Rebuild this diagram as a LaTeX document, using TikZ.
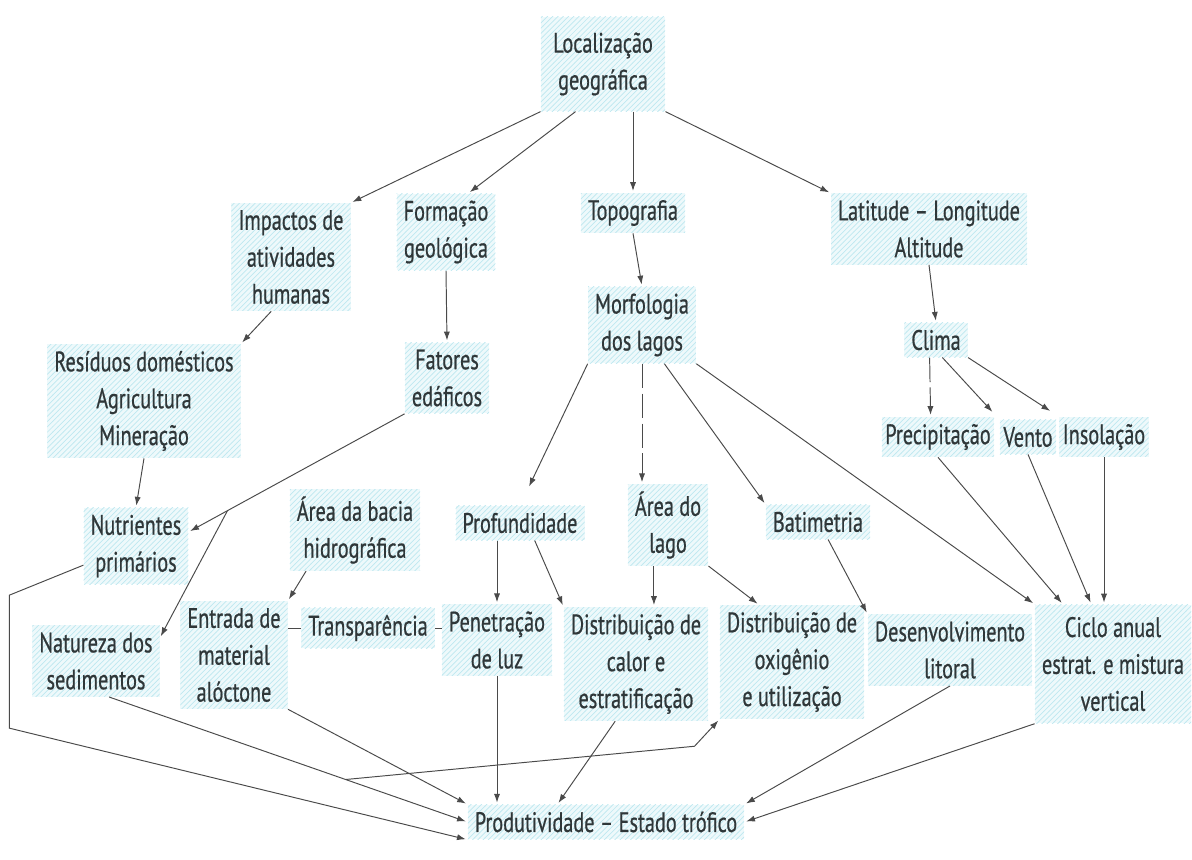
\documentclass[tikz,border=0pt]{standalone}
\usepackage{fontspec}
\setmainfont{PT Sans}[FakeStretch=0.72, FakeBold=0.6]
\usetikzlibrary{calc, arrows.meta, patterns}

\definecolor{inkgray}{HTML}{2F3739}
\definecolor{linegray}{HTML}{4A4A4A}
\definecolor{hatchbg}{HTML}{EEF9FB}
\definecolor{hatchln}{HTML}{BEE8F0}

\begin{document}
\begin{tikzpicture}[x=0.02cm, y=-0.02cm,
  topic/.style={align=center, text=inkgray, font=\fontsize{16}{21}\selectfont,
    inner xsep=4pt, inner ysep=4pt, preaction={fill=hatchbg},
    pattern=north east lines, pattern color=hatchln},
  arr/.style={draw=linegray, line width=0.55pt, -{Latex[length=5pt,width=3.5pt]}, shorten >=1pt},
  plainline/.style={draw=linegray, line width=0.55pt},
  broken/.style={arr, dash pattern=on 14pt off 3pt}]
  \useasboundingbox (0,0) rectangle (1192,859);

  % nodes, row by row
  \node[topic, inner xsep=7pt, inner ysep=9pt] (loc) at (603,64) {Localização\\geográfica};
  \node[topic] (imp)   at (291,257) {Impactos de\\atividades\\humanas};
  \node[topic] (form)  at (446,232) {Formação\\geológica};
  \node[topic] (topo)  at (633,213) {Topografia};
  \node[topic] (lat)   at (929,229) {Latitude – Longitude\\Altitude};
  \node[topic] (res)   at (144,401) {Resíduos domésticos\\Agricultura\\Mineração};
  \node[topic] (fat)   at (447,378) {Fatores\\edáficos};
  \node[topic] (morf)  at (642,325) {Morfologia\\dos lagos};
  \node[topic] (clima) at (936,340) {Clima};
  \node[topic, inner xsep=2pt] (prec)  at (938,437) {Precipitação};
  \node[topic, inner xsep=2pt] (vento) at (1028,437) {Vento};
  \node[topic, inner xsep=2pt] (insol) at (1104,437) {Insolação};
  \node[topic] (nut)   at (136,546) {Nutrientes\\primários};
  \node[topic] (bacia) at (355,530) {Área da bacia\\hidrográfica};
  \node[topic] (prof)  at (520,523) {Profundidade};
  \node[topic] (area)  at (668,525) {Área do\\lago};
  \node[topic] (bat)   at (818,522) {Batimetria};
  \node[topic] (nat)   at (96,661) {Natureza dos\\sedimentos};
  \node[topic] (ent)   at (234,655) {Entrada de\\material\\alóctone};
  \node[topic] (transp) at (368,628) {Transparência};
  \node[topic] (pen)   at (497,640) {Penetração\\de luz};
  \node[topic] (calor) at (636,664) {Distribuição de\\calor e\\estratificação};
  \node[topic] (oxi)   at (792,662) {Distribuição de\\oxigênio\\e utilização};
  \node[topic] (desen) at (950,650) {Desenvolvimento\\litoral};
  \node[topic, inner ysep=7pt] (ciclo) at (1113,664) {Ciclo anual\\estrat. e mistura\\vertical};
  \node[topic] (prod)  at (606,822) {Produtividade – Estado trófico};

  % from the top
  \draw[arr] (loc.south west) -- (imp.north east);
  \draw[arr] (loc.240) -- (form.60);
  \draw[arr] (loc.south -| topo.north) -- (topo.north);
  \draw[arr] (loc.south east) -- (lat.north west);
  \draw[arr] (imp.250) -- (res.north east);
  \draw[arr] (form.south) -- (fat.north);
  \draw[arr] (topo.south) -- (morf.north);
  \draw[arr] (lat.south) -- (clima.north);

  % left side
  \draw[arr] (res.south) -- (nut.north);
  \draw[arr] (fat.south west) -- coordinate[pos=0.82] (fk) (nut.15);
  \draw[arr] (fk) -- (nat.20);
  \draw[arr] (nut.200) -- ++(-74,30) -- ++(0,133) -- (prod.south west);
  \draw[arr] (nat.-70) -- coordinate[pos=0.66] (nb) (prod.west);
  \draw[arr] (nb) -- ($(oxi.south west)+(-25,27)$) -- (oxi.south west);
  \draw[arr] (bacia.220) -- (ent.north east);
  \draw[arr] (ent.south east) -- (prod.north west);
  \draw[plainline] (ent.east |- transp.east) -- (transp.west);
  \draw[plainline] (transp.east) -- (pen.west |- transp.east);

  % lake morphology
  \draw[arr, shorten >=12pt] (morf.south west) -- (prof.north);
  \draw[broken] (morf.south) -- (morf.south |- area.north);
  \draw[arr] (morf.300) -- (bat.north west);
  \draw[arr] (morf.south east) -- (ciclo.north west);
  \draw[arr] (prof.south -| pen.north) -- (pen.north);
  \draw[arr] (prof.-50) -- (calor.north west);
  \draw[arr] ([xshift=-8pt]area.south) -- ([xshift=-8pt]area.south |- calor.north);
  \draw[arr] (area.south east) -- (oxi.120);
  \draw[arr] (bat.-60) -- (desen.north west);

  % climate
  \draw[broken] (clima.250) -- (prec.110);
  \draw[arr, shorten >=6pt] (clima.290) -- (vento.north west);
  \draw[arr, shorten >=6pt] (clima.south east) -- (insol.north west);
  \draw[arr] (prec.south) -- (ciclo.130);
  \draw[arr] (vento.south) -- (ciclo.110);
  \draw[arr] (insol.south) -- (insol.south |- ciclo.north);

  % into productivity
  \draw[arr] (pen.south) -- (pen.south |- prod.north);
  \draw[arr] (calor.250) -- (prod.160);
  \draw[arr] (desen.south) -- (prod.north east);
  \draw[arr] (ciclo.south west) -- (prod.east);
\end{tikzpicture}
\end{document}
